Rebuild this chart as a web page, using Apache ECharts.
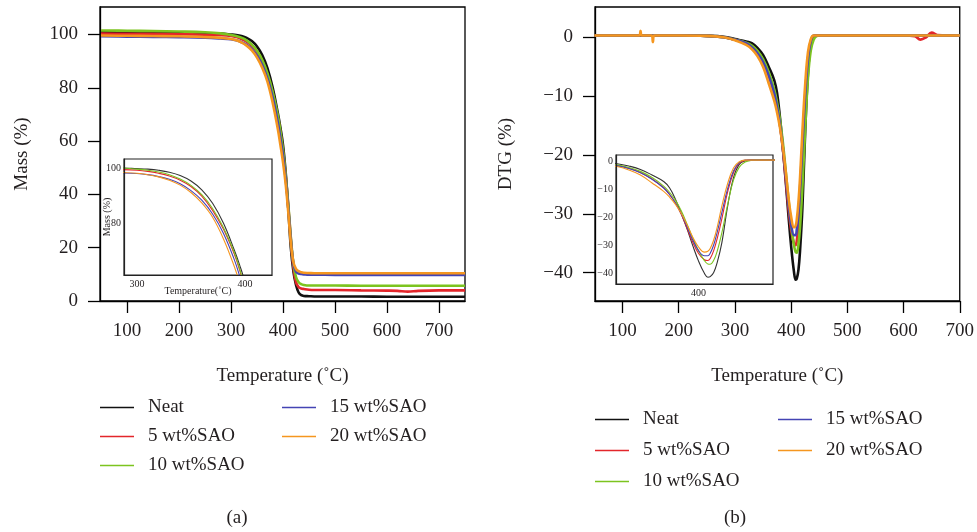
<!DOCTYPE html>
<html><head><meta charset="utf-8">
<script src="https://cdn.jsdelivr.net/npm/echarts@6/dist/echarts.min.js"></script>
<style>html,body{margin:0;padding:0;background:#fff}#c{width:977px;height:532px}</style>
</head><body><div id="c"></div>
<script>
// ---------- DATA ----------
const seriesNames = ['Neat', '5 wt%SAO', '10 wt%SAO', '15 wt%SAO', '20 wt%SAO'];

// TGA (panel a)
const tgaTemp = [50,100,150,200,250,280,300,310,320,330,340,350,360,370,380,390,395,400,405,410,415,420,425,430,435,440,450,460,500,550,600,620,640,660,700,750];
const massNeat = [101.0,100.9,100.8,100.7,100.5,100.3,100.0,99.8,99.4,98.7,97.5,95.5,92.3,87.4,80.2,70.5,65.0,58.5,48.5,35.0,20.0,11.0,6.0,3.2,2.2,1.9,1.8,1.7,1.7,1.7,1.6,1.6,1.6,1.6,1.6,1.6];
const mass5 = [100.3,100.2,100.2,100.1,99.9,99.7,99.4,99.0,98.3,97.3,95.8,93.5,90.0,84.8,78.0,69.0,63.2,56.0,47.0,36.0,23.5,12.5,7.0,5.2,4.7,4.5,4.2,4.1,4.1,4.0,3.9,3.8,3.5,3.8,4.0,4.0];
const mass10 = [101.5,101.4,101.3,101.1,100.8,100.4,99.8,99.4,98.8,97.8,96.2,93.9,90.5,85.5,78.6,69.6,63.6,56.5,47.5,36.5,24.0,14.0,9.0,7.0,6.3,6.0,5.8,5.8,5.8,5.7,5.7,5.7,5.7,5.7,5.7,5.7];
const mass15 = [99.3,99.2,99.1,99.0,98.8,98.5,98.2,97.8,97.1,96.1,94.5,92.0,88.5,83.5,76.5,67.0,61.0,54.5,46.0,35.0,23.0,14.0,11.0,10.3,10.1,10.0,9.9,9.9,9.8,9.8,9.8,9.8,9.8,9.8,9.8,9.8];
const mass20 = [99.6,99.5,99.4,99.3,99.0,98.7,98.3,97.8,97.0,95.8,94.0,91.3,87.5,82.3,74.5,64.5,58.5,52.0,44.0,33.5,22.0,14.5,12.0,11.2,10.8,10.6,10.5,10.4,10.4,10.4,10.4,10.4,10.4,10.4,10.4,10.4];

// DTG (panel b)
const dtgTemp = [50,100,130,132,134,152,154,156,200,250,280,300,320,330,340,350,360,370,375,380,385,390,395,400,405,408,410,413,416,420,425,430,435,440,445,450,500,550,600,620,630,640,650,660,700];
const dtgNeat = [0.3,0.3,0.3,0.3,0.3,0.3,0.3,0.3,0.3,0.25,0.1,-0.3,-0.7,-1.0,-1.8,-3.0,-5.0,-7.3,-9.5,-13.5,-18.5,-24,-30,-35.5,-39.8,-41.2,-41,-39.5,-36,-29,-16,-6,-1.2,0,0.3,0.3,0.3,0.3,0.3,0.3,0.3,0.3,0.3,0.3,0.3];
const dtg5 = [0.3,0.3,0.3,0.3,0.3,0.3,0.3,0.3,0.3,0.25,0.0,-0.4,-1.0,-1.6,-2.6,-4.1,-6.4,-9.5,-11.8,-14.8,-18.8,-23.8,-28.8,-32.8,-35,-35.3,-34.6,-31.8,-27.5,-20.5,-11,-4.2,-0.8,0.2,0.3,0.3,0.3,0.3,0.3,0.2,-0.4,0.0,0.8,0.4,0.3];
const dtg10 = [0.3,0.3,0.3,0.3,0.3,0.3,0.3,0.3,0.3,0.25,0.0,-0.4,-0.9,-1.4,-2.3,-3.7,-5.9,-8.9,-11.1,-13.9,-17.6,-22.3,-27.3,-31.8,-35.3,-36.5,-36.6,-35.2,-32,-25.5,-15.5,-6.8,-2.2,-0.4,0.2,0.3,0.3,0.3,0.3,0.3,0.3,0.3,0.3,0.3,0.3];
const dtg15 = [0.3,0.3,0.3,0.3,0.3,0.3,0.3,0.3,0.3,0.25,0.0,-0.4,-1.0,-1.7,-2.7,-4.2,-6.5,-9.6,-11.9,-14.8,-18.6,-23.2,-28,-31.8,-33.6,-33.6,-32.7,-29.8,-25.3,-18.3,-9.8,-3.6,-0.6,0.3,0.3,0.3,0.3,0.3,0.3,0.3,0.3,0.3,0.3,0.3,0.3];
const dtg20 = [0.3,0.3,0.3,1.1,0.3,0.3,-0.8,0.3,0.3,0.25,0.0,-0.5,-1.3,-2.0,-3.2,-5.0,-7.8,-10.8,-12.8,-15.3,-18.5,-22.5,-27,-30.5,-32.3,-32,-31,-28,-23.5,-16,-8,-2.5,-0.3,0.3,0.3,0.3,0.3,0.3,0.3,0.3,0.3,0.3,0.3,0.3,0.3];

// tick labels
const tempTicks = [100,200,300,400,500,600,700];
const massTicks = [0,20,40,60,80,100];
const dtgTicks = [-40,-30,-20,-10,0];
const insetMassTicks = [80,100];
const insetMassTempTicks = [300,400];
const insetDtgTicks = [-40,-30,-20,-10,0];
const insetDtgTempTicks = [400];

// ---------- STYLE ----------
const colors = ['#111111', '#e3262b', '#7cc41f', '#4444b4', '#f5961f'];
const insetColors = ['#333333', '#e3262b', '#7cc41f', '#4444b4', '#f5961f'];
const FF = '"Liberation Serif", "DejaVu Serif", serif';
const TXT = '#231f20';
const massSets = [massNeat, mass5, mass10, mass15, mass20];
const dtgSets = [dtgNeat, dtg5, dtg10, dtg15, dtg20];
const zip = (xs, ys) => xs.map((x, i) => [x, ys[i]]);
const minus = v => String(v).replace('-', '\u2212');

function mainX(idx, min, max) {
  return {
    type: 'value', gridIndex: idx, min: min, max: max,
    name: 'Temperature (\u02DAC)', nameLocation: 'middle', nameGap: 66, nameMoveOverlap: false,
    nameTextStyle: {fontFamily: FF, fontSize: 19, color: TXT},
    axisLine: {show: true, onZero: false, lineStyle: {color: '#000', width: 1.3}},
    axisTick: {show: true, inside: false, length: 12, customValues: tempTicks, lineStyle: {color: '#000', width: 1.3}},
    axisLabel: {customValues: tempTicks, margin: 21, fontFamily: FF, fontSize: 19, color: TXT},
    splitLine: {show: false}
  };
}
function mainY(idx, min, max, ticks, name, gap) {
  return {
    type: 'value', gridIndex: idx, min: min, max: max,
    name: name, nameLocation: 'middle', nameGap: gap, nameMoveOverlap: false,
    nameTextStyle: {fontFamily: FF, fontSize: 19, color: TXT},
    axisLine: {show: true, onZero: false, lineStyle: {color: '#000', width: 1.3}},
    axisTick: {show: true, inside: false, length: 12, customValues: ticks, lineStyle: {color: '#000', width: 1.3}},
    axisLabel: {customValues: ticks, margin: 22, fontFamily: FF, fontSize: 19, color: TXT, formatter: minus},
    splitLine: {show: false}
  };
}
function insetX(idx, min, max, ticks, name, gap) {
  return {
    type: 'value', gridIndex: idx, min: min, max: max, z: 6,
    name: name, nameLocation: 'middle', nameGap: gap, nameMoveOverlap: false,
    nameTextStyle: {fontFamily: FF, fontSize: 10, color: TXT},
    axisLine: {show: true, onZero: false, lineStyle: {color: '#222', width: 1.2}},
    axisTick: {show: false},
    axisLabel: {customValues: ticks, margin: 4, fontFamily: FF, fontSize: 10, color: TXT},
    splitLine: {show: false}
  };
}
function insetY(idx, min, max, ticks, name, gap) {
  return {
    type: 'value', gridIndex: idx, min: min, max: max, z: 6,
    name: name, nameLocation: 'middle', nameGap: gap, nameMoveOverlap: false,
    nameTextStyle: {fontFamily: FF, fontSize: 10, color: TXT},
    axisLine: {show: true, onZero: false, lineStyle: {color: '#222', width: 1.2}},
    axisTick: {show: false},
    axisLabel: {customValues: ticks, margin: 3, fontFamily: FF, fontSize: 10, color: TXT, formatter: minus},
    splitLine: {show: false}
  };
}

const series = [];
seriesNames.forEach((nm, i) => {
  series.push({name: nm, type: 'line', xAxisIndex: 0, yAxisIndex: 0, data: zip(tgaTemp, massSets[i]),
    showSymbol: false, symbol: 'none', smooth: 0.4, z: 2,
    lineStyle: {color: colors[i], width: 2.6}, itemStyle: {color: colors[i]}});
  series.push({name: nm, type: 'line', xAxisIndex: 1, yAxisIndex: 1, data: zip(tgaTemp, massSets[i]),
    showSymbol: false, symbol: 'none', smooth: 0.4, z: 5, clip: true,
    lineStyle: {color: insetColors[i], width: 1.1}, itemStyle: {color: colors[i]}});
  series.push({name: nm, type: 'line', xAxisIndex: 2, yAxisIndex: 2, data: zip(dtgTemp, dtgSets[i]),
    showSymbol: false, symbol: 'none', smooth: 0.4, z: 2,
    lineStyle: {color: colors[i], width: 2.6}, itemStyle: {color: colors[i]}});
  series.push({name: nm, type: 'line', xAxisIndex: 3, yAxisIndex: 3, data: zip(dtgTemp, dtgSets[i]),
    showSymbol: false, symbol: 'none', smooth: 0.4, z: 5, clip: true,
    lineStyle: {color: insetColors[i], width: 1.1}, itemStyle: {color: colors[i]}});
});

function legend(names, left, top, gap) {
  return {
    data: names, orient: 'vertical', left: left, top: top, itemGap: gap, padding: 0,
    icon: 'rect', itemWidth: 34, itemHeight: 1.6, selectedMode: false,
    textStyle: {fontFamily: FF, fontSize: 19, color: TXT, padding: [0, 0, 0, 9]}
  };
}

const option = {
  animation: false,
  backgroundColor: '#fff',
  grid: [
    {left: 100, top: 7, width: 365, height: 294, show: true, borderColor: '#000', borderWidth: 1.3, backgroundColor: 'transparent'},
    {left: 124, top: 159, width: 148, height: 116, show: true, borderColor: '#222', borderWidth: 1.2, backgroundColor: '#fff', z: 3},
    {left: 595, top: 7, width: 365, height: 294, show: true, borderColor: '#000', borderWidth: 1.3, backgroundColor: 'transparent'},
    {left: 616, top: 155, width: 157, height: 129, show: true, borderColor: '#222', borderWidth: 1.2, backgroundColor: '#fff', z: 3}
  ],
  xAxis: [
    mainX(0, 48, 750),
    insetX(1, 288, 425, insetMassTempTicks, 'Temperature(\u02DAC)', 11),
    mainX(2, 51, 700),
    insetX(3, 329, 464, insetDtgTempTicks, '', 10)
  ],
  yAxis: [
    mainY(0, 0, 110.3, massTicks, 'Mass (%)', 68),
    insetY(1, 61.3, 103.5, insetMassTicks, 'Mass (%)', 12),
    mainY(2, -44.8, 5.15, dtgTicks, 'DTG (%)', 79),
    insetY(3, -43.6, 2.1, insetDtgTicks, '', 10)
  ],
  legend: [
    legend(['Neat', '5 wt%SAO', '10 wt%SAO'], 100, 398, 10),
    legend(['15 wt%SAO', '20 wt%SAO'], 282, 398, 10),
    legend(['Neat', '5 wt%SAO', '10 wt%SAO'], 595, 410, 12),
    legend(['15 wt%SAO', '20 wt%SAO'], 778, 410, 12)
  ],
  graphic: [
    {type: 'text', x: 237, y: 518, style: {text: '(a)', fontFamily: FF, fontSize: 19, fill: TXT, align: 'center', verticalAlign: 'middle'}},
    {type: 'text', x: 735, y: 518, style: {text: '(b)', fontFamily: FF, fontSize: 19, fill: TXT, align: 'center', verticalAlign: 'middle'}}
  ],
  series: series
};

const chart = echarts.init(document.getElementById('c'), null, {renderer: 'canvas'});
chart.setOption(option);
</script>
</body></html>
